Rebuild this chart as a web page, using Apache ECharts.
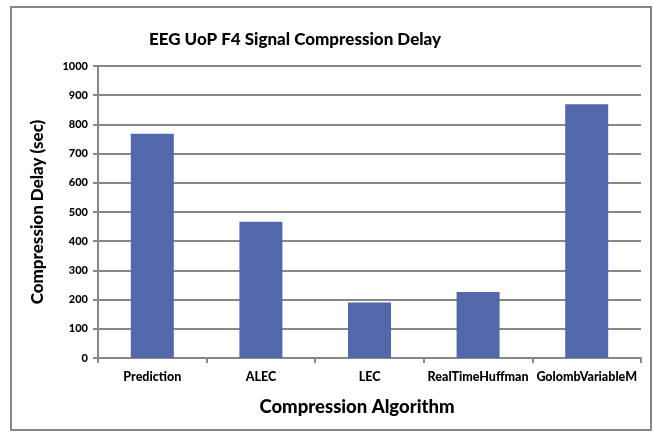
<!DOCTYPE html>
<html><head><meta charset="utf-8">
<script src="https://cdn.jsdelivr.net/npm/echarts@6/dist/echarts.min.js"></script>
<style>html,body{margin:0;padding:0;background:#fff}#c{width:653px;height:432px}</style>
</head><body><div id="c"></div>
<script>
const categories = ['Prediction', 'ALEC', 'LEC', 'RealTimeHuffman', 'GolombVariableM'];
const delays = [768, 467, 190, 226, 869];
const yTicks = {min: 0, max: 1000, interval: 100};
const titleText = 'EEG UoP F4 Signal Compression Delay';
const xName = 'Compression Algorithm';
const yName = 'Compression Delay (sec)';

const FONT = 'Lato';
const W = 900;
const chart = echarts.init(document.getElementById('c'), null, {renderer: 'canvas'});
chart.setOption({
  animation: false,
  backgroundColor: '#fff',
  graphic: [{
    type: 'rect', shape: {x: 11, y: 7, width: 640, height: 423},
    style: {fill: 'none', stroke: '#878787', lineWidth: 2}, silent: true, z: -1
  }],
  title: [{
    text: titleText, left: 290, top: 26, textAlign: 'center',
    textStyle: {fontFamily: FONT, fontWeight: W, fontSize: 17, color: '#000'}
  }, {
    text: xName, left: 352, top: 393, textAlign: 'center',
    textStyle: {fontFamily: FONT, fontWeight: W, fontSize: 18.5, color: '#000'}
  }],
  grid: {left: 98, right: 12, top: 66, bottom: 74, containLabel: false},
  xAxis: {
    type: 'category', data: categories,
    axisLine: {lineStyle: {color: '#878787', width: 2}},
    axisTick: {show: true, alignWithLabel: false, length: 5, lineStyle: {color: '#878787', width: 2}},
    axisLabel: {fontFamily: FONT, fontWeight: W, fontSize: 12.5, color: '#000', margin: 12, interval: 0}
  },
  yAxis: {
    type: 'value', min: yTicks.min, max: yTicks.max, interval: yTicks.interval,
    name: yName, nameLocation: 'middle', nameGap: 52,
    nameTextStyle: {fontFamily: FONT, fontWeight: W, fontSize: 17, color: '#000'},
    axisLine: {show: true, lineStyle: {color: '#878787', width: 2}},
    axisTick: {show: true, length: 5, lineStyle: {color: '#878787', width: 2}},
    axisLabel: {fontFamily: FONT, fontWeight: W, fontSize: 11, color: '#000', margin: 10,
      formatter: v => String(v)},
    splitLine: {show: true, lineStyle: {color: '#878787', width: 2}}
  },
  series: [{
    type: 'bar', data: delays, barWidth: 43,
    itemStyle: {color: '#5368AA'}
  }]
});
</script></body></html>
